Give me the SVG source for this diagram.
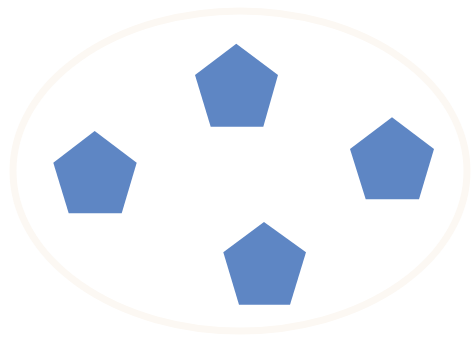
<svg xmlns="http://www.w3.org/2000/svg" width="472" height="338" viewBox="0 0 472 338">
<style>
.pent{fill:#5e86c4;}
.ring{fill:none;stroke:#fcf8f3;stroke-width:7;}
</style>
<rect width="472" height="338" fill="#ffffff"/>
<ellipse class="ring" cx="240" cy="171" rx="227" ry="160"/>
<g id="node-top"><polygon class="pent" points="236.3,43.7 278,75 263.3,126.7 210.7,126.7 195,75"/></g>
<g id="node-left"><polygon class="pent" points="94.7,131 136.7,162.7 121.7,213.3 68.7,213.3 53.3,162.7"/></g>
<g id="node-right"><polygon class="pent" points="392,117.3 434,149 419,199.3 365.7,199.3 350,149"/></g>
<g id="node-bottom"><polygon class="pent" points="264,222 306,252.3 290,304.7 239,304.7 223.3,252.3"/></g>
<g id="connectors"></g>
</svg>
